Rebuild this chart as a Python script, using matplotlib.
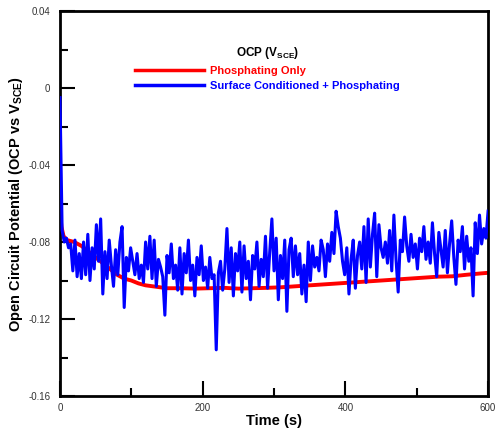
import matplotlib
matplotlib.use("Agg")
import matplotlib.pyplot as plt
import numpy as np
from matplotlib.ticker import MultipleLocator, FuncFormatter

plt.rcParams['font.family'] = ['Liberation Sans', 'DejaVu Sans']
plt.rcParams['mathtext.fontset'] = 'custom'
plt.rcParams['mathtext.rm'] = 'Liberation Sans'
plt.rcParams['mathtext.bf'] = 'Liberation Sans:bold'

# Phosphating only (smooth curve)
red_t = [0, 2, 5, 10, 20, 30, 40, 50, 60, 70, 80, 90, 100, 110, 120, 130, 140,
         150, 170, 190, 210, 230, 250, 270, 290, 310, 330, 350, 370, 390, 410,
         430, 450, 470, 490, 510, 530, 550, 570, 590, 600]
red_v = [-0.064, -0.072, -0.077, -0.079, -0.080, -0.082, -0.085, -0.088, -0.091,
         -0.094, -0.097, -0.099, -0.100, -0.1015, -0.1025, -0.103, -0.1035,
         -0.104, -0.104, -0.1042, -0.104, -0.1038, -0.1042, -0.104, -0.1038,
         -0.1035, -0.103, -0.1025, -0.102, -0.1015, -0.101, -0.1005, -0.100,
         -0.0995, -0.099, -0.0985, -0.098, -0.0978, -0.097, -0.0963, -0.096]

# Surface conditioned + phosphating (noisy), every 3 s
blue_t = list(range(0, 601, 3))
blue_v = [
    -0.005, -0.074, -0.080, -0.078, -0.083, -0.081, -0.095, -0.079, -0.098, -0.086,
    -0.099, -0.080, -0.097, -0.076, -0.100, -0.083, -0.094, -0.071, -0.090, -0.068,
    -0.107, -0.085, -0.099, -0.079, -0.092, -0.103, -0.084, -0.097, -0.080, -0.072,
    -0.114, -0.088, -0.095, -0.083, -0.090, -0.097, -0.086, -0.099, -0.092, -0.101,
    -0.080, -0.094, -0.077, -0.099, -0.079, -0.103, -0.089, -0.093, -0.098, -0.118,
    -0.087, -0.096, -0.081, -0.099, -0.092, -0.105, -0.083, -0.107, -0.086, -0.096,
    -0.079, -0.100, -0.092, -0.108, -0.088, -0.097, -0.082, -0.100, -0.093, -0.104,
    -0.088, -0.099, -0.097, -0.136, -0.096, -0.090, -0.105, -0.094, -0.073, -0.101,
    -0.083, -0.108, -0.086, -0.095, -0.080, -0.106, -0.082, -0.099, -0.090, -0.110,
    -0.087, -0.094, -0.080, -0.103, -0.089, -0.098, -0.077, -0.104, -0.085, -0.068,
    -0.095, -0.078, -0.110, -0.087, -0.099, -0.079, -0.116, -0.084, -0.078, -0.098,
    -0.082, -0.097, -0.086, -0.107, -0.092, -0.111, -0.080, -0.100, -0.082, -0.093,
    -0.088, -0.095, -0.079, -0.084, -0.098, -0.081, -0.090, -0.075, -0.086, -0.064,
    -0.072, -0.078, -0.090, -0.097, -0.083, -0.107, -0.089, -0.079, -0.104, -0.087,
    -0.080, -0.094, -0.072, -0.101, -0.068, -0.093, -0.076, -0.065, -0.098, -0.071,
    -0.083, -0.088, -0.080, -0.091, -0.074, -0.095, -0.066, -0.089, -0.106, -0.079,
    -0.085, -0.067, -0.082, -0.090, -0.076, -0.088, -0.081, -0.094, -0.078, -0.085,
    -0.072, -0.089, -0.080, -0.091, -0.070, -0.086, -0.098, -0.075, -0.084, -0.093,
    -0.074, -0.096, -0.081, -0.069, -0.088, -0.102, -0.079, -0.085, -0.072, -0.094,
    -0.077, -0.090, -0.083, -0.108, -0.070, -0.086, -0.066, -0.081, -0.073, -0.078,
    -0.064]

labels = ["Phosphating Only", "Surface Conditioned + Phosphating"]
colors = ["#ff0000", "#0000ff"]

fig = plt.figure(figsize=(4.95, 4.3), dpi=100)
ax = fig.add_axes([0.1212, 0.079, 0.8648, 0.8954])

ax.plot(red_t, red_v, color=colors[0], lw=2.8, label=labels[0], zorder=2)
ax.plot(blue_t, blue_v, color=colors[1], lw=2.2, label=labels[1], zorder=3)

ax.set_xlim(0, 600)
ax.set_ylim(-0.16, 0.04)
ax.xaxis.set_major_locator(MultipleLocator(200))
ax.xaxis.set_minor_locator(MultipleLocator(100))
ax.yaxis.set_major_locator(MultipleLocator(0.04))
ax.yaxis.set_minor_locator(MultipleLocator(0.02))
ax.yaxis.set_major_formatter(FuncFormatter(lambda v, p: "0" if abs(v) < 1e-9 else f"{v:.2f}"))
ax.tick_params(which='major', direction='in', length=11, width=1.5, labelsize=7,
               labelcolor='#333333')
ax.tick_params(axis='y', which='major', pad=7)
ax.tick_params(axis='x', which='major', pad=5)
ax.tick_params(which='minor', direction='in', length=5.5, width=1.5)
for s in ax.spines.values():
    s.set_linewidth(2)

ax.set_xlabel("Time (s)", fontsize=10.5, fontweight='bold', labelpad=1)
ax.set_ylabel(r"Open Circuit Potential (OCP vs $\mathbf{V_{SCE}}$)", fontsize=10.5,
              fontweight='bold', labelpad=2)

leg = ax.legend(loc='upper left', bbox_to_anchor=(0.163, 0.925), frameon=False,
                title=r"OCP ($\mathbf{V_{SCE}}$)", fontsize=8, handlelength=6.2,
                handletextpad=0.5, labelspacing=0.45, borderpad=0,
                labelcolor='linecolor', prop={'weight': 'bold', 'size': 8})
leg.get_title().set_fontweight('bold')
leg.get_title().set_fontsize(8.5)
leg._legend_box.sep = 3
for line in leg.get_lines():
    line.set_linewidth(2.5)

fig.savefig("out.png", dpi=100)
